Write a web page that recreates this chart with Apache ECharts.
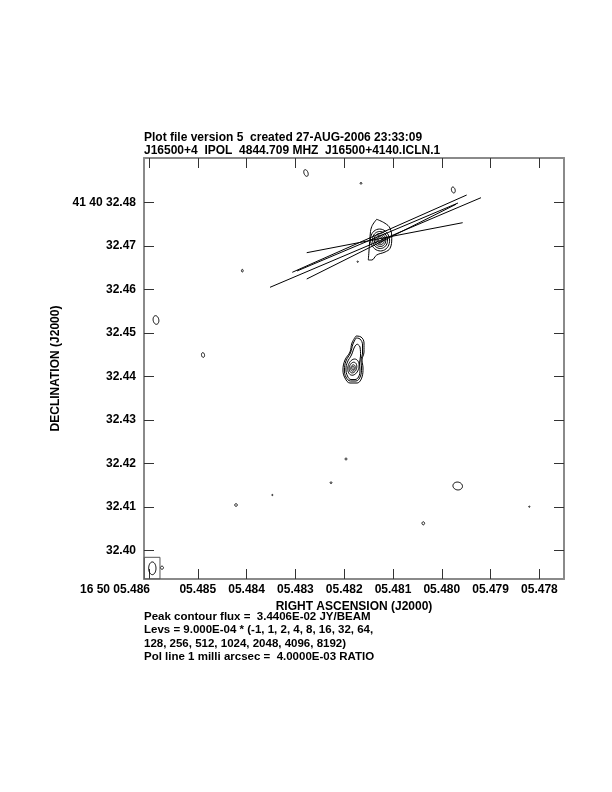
<!DOCTYPE html>
<html>
<head>
<meta charset="utf-8">
<script src="https://cdn.jsdelivr.net/npm/echarts@6/dist/echarts.min.js"></script>
<style>
  html, body { margin: 0; padding: 0; background: #fff; }
  #chart { width: 612px; height: 792px; }
</style>
</head>
<body>
<div id="chart"></div>
<script>
// axis ticks (RA seconds of 16h50m, Dec arcsec of +41d40m)
const raTicks = [5.486, 5.485, 5.484, 5.483, 5.482, 5.481, 5.480, 5.479, 5.478]
const decTicks = [32.40, 32.41, 32.42, 32.43, 32.44, 32.45, 32.46, 32.47, 32.48]
const raRange = [5.4774959, 5.4861025]
const decRange = [32.393402, 32.490184]

// source centres [ra s, dec arcsec]
const upperCentre = [5.481266, 32.471333]
const lowerCentre = [5.481820, 32.441907]

// irregular contours, offsets in mas from the centre (x positive = west)
const upperOuter = [[-0.76, 4.76], [-1.91, 3.06], [-2.3, 0.76], [-2.46, -1.54], [-2.69, -4.6], [-1.91, -4.6],
  [-0.76, -3.45], [1.15, -2.76], [2.3, -1.91], [2.69, 0.39], [2.3, 2.69], [1.15, 3.84]]
const lowerLev1 = [[0.69, 7.36], [1.84, 7.13], [2.53, 5.75], [2.53, 3.68], [2.07, 1.84], [2.3, 0], [2.07, -2.07],
  [0.92, -3.45], [-0.69, -3.45], [-1.84, -2.3], [-2.3, -0.46], [-1.84, 1.84], [-0.69, 3.68], [-0.23, 5.75]]
const lowerLev2 = [[0.69, 6.9], [1.61, 6.67], [2.19, 5.29], [2.19, 3.45], [1.84, 1.84], [1.96, 0], [1.73, -1.84],
  [0.69, -2.99], [-0.58, -2.99], [-1.61, -2.07], [-1.96, -0.46], [-1.61, 1.61], [-0.58, 3.45], [0, 5.52]]
const lowerLev3 = [[0.92, 5.52], [1.61, 4.83], [1.73, 2.76], [1.5, 1.15], [1.61, -0.46], [1.27, -2.07], [0.46, -2.65],
  [-0.46, -2.65], [-1.27, -1.84], [-1.61, -0.23], [-1.27, 1.38], [-0.35, 2.99], [0.35, 4.83]]

// elliptical contours: [dx mas, dy mas, rx mas, ry mas, angle deg] relative to a centre
const upperRings = [[0, 0, 2.19, 2.53, -10], [0, 0, 1.73, 1.96, -10], [0, 0, 1.33, 1.5, -10],
  [0, 0, 0.97, 1.1, -10], [0, 0, 0.64, 0.74, 0], [0, 0, 0.35, 0.41, 0]]
const lowerRings = [[0.1, 0.2, 1.25, 1.9, 15], [0, 0.1, 0.85, 1.25, 15], [0, 0, 0.5, 0.75, 15], [0, 0, 0.25, 0.4, 0]]

// isolated small contours: [ra, dec, rx mas, ry mas, angle deg]
const blobs = [
  [5.482783, 32.486736, 0.46, 0.8, -20],
  [5.479764, 32.482828, 0.42, 0.7, -15],
  [5.481656, 32.484368, 0.2, 0.2, 0],
  [5.481723, 32.466344, 0.15, 0.15, 0],
  [5.484088, 32.464276, 0.2, 0.3, 0],
  [5.485857, 32.452942, 0.65, 1.0, -10],
  [5.484893, 32.444896, 0.35, 0.55, -10],
  [5.481963, 32.420988, 0.22, 0.22, 0],
  [5.482270, 32.415539, 0.2, 0.2, 0],
  [5.483473, 32.412711, 0.12, 0.12, 0],
  [5.484217, 32.410413, 0.3, 0.3, 0],
  [5.480379, 32.406205, 0.3, 0.35, 0],
  [5.479674, 32.414780, 1.1, 0.9, 10],
  [5.478207, 32.410022, 0.1, 0.1, 0],
  [5.485734, 32.395998, 0.35, 0.35, 0]
]

// restoring beam and its box
const beam = [[5.485932, 32.395858, 0.84, 1.46, 0]]
const beamBox = [[5.486096, 32.398389], [5.485775, 32.398389], [5.485775, 32.393402], [5.486096, 32.393402]]

// polarisation vectors [[ra1, dec1], [ra2, dec2]]
const polVectors = [
  [[5.482768, 32.468414], [5.479572, 32.475310]],
  [[5.483520, 32.460460], [5.479197, 32.481057]],
  [[5.483064, 32.463908], [5.479490, 32.481678]],
  [[5.482967, 32.464207], [5.479668, 32.479839]],
  [[5.482768, 32.462367], [5.479709, 32.479540]]
]

const titleLines = ['Plot file version 5  created 27-AUG-2006 23:33:09', 'J16500+4  IPOL  4844.709 MHZ  J16500+4140.ICLN.1']
const noteLines = ['Peak contour flux =  3.4406E-02 JY/BEAM', 'Levs = 9.000E-04 * (-1, 1, 2, 4, 8, 16, 32, 64,',
  '128, 256, 512, 1024, 2048, 4096, 8192)', 'Pol line 1 milli arcsec =  4.0000E-03 RATIO']

const cosDec = Math.cos((41 + 40 / 60 + 32.44 / 3600) * Math.PI / 180)
const FONT = '"Liberation Sans", Arial, sans-serif'

function toRaDec(centre, off) {
  return [centre[0] - off[0] * 0.001 / (15 * cosDec), centre[1] + off[1] * 0.001]
}
function closedLine(centre, pts) {
  const d = pts.map(p => toRaDec(centre, p))
  d.push(d[0])
  return d
}
function ringsToBlobs(centre, rings) {
  return rings.map(r => toRaDec(centre, r).concat([r[2], r[3], r[4]]))
}

function renderEllipse(params, api) {
  const c = api.coord([api.value(0), api.value(1)])
  const k = api.size([0, 0.001])[1]
  const rx = Math.max(api.value(2) * k, 0.6)
  const ry = Math.max(api.value(3) * k, 0.6)
  const a = api.value(4) * Math.PI / 180
  const pts = []
  for (let i = 0; i < 40; i++) {
    const t = i / 40 * 2 * Math.PI
    const ex = rx * Math.cos(t)
    const ey = ry * Math.sin(t)
    pts.push([c[0] + ex * Math.cos(a) - ey * Math.sin(a), c[1] + ex * Math.sin(a) + ey * Math.cos(a)])
  }
  return {
    type: 'polygon',
    shape: { points: pts },
    style: { fill: 'none', stroke: '#000', lineWidth: 1 }
  }
}

function contourSeries(data) {
  return {
    type: 'line',
    data: data,
    smooth: 0.4,
    showSymbol: false,
    silent: true,
    lineStyle: { color: '#000', width: 1 },
    clip: true
  }
}

const tickStyle = { show: true, inside: true, length: 10, lineStyle: { color: '#333', width: 1 } }
const frameLine = { show: true, onZero: false, lineStyle: { color: '#8a8a8a', width: 2 } }
const labelFont = { fontFamily: FONT, fontWeight: 'bold', fontSize: 12, color: '#000' }

const chart = echarts.init(document.getElementById('chart'), null, { renderer: 'canvas' })

const option = {
  animation: false,
  backgroundColor: '#fff',
  grid: { left: 144, top: 158, width: 420, height: 421, containLabel: false },
  xAxis: [{
    type: 'value',
    position: 'bottom',
    min: raRange[0],
    max: raRange[1],
    inverse: true,
    axisLine: frameLine,
    axisTick: Object.assign({ customValues: raTicks }, tickStyle),
    splitLine: { show: false },
    axisLabel: Object.assign({
      customValues: raTicks,
      margin: 5,
      formatter: v => Math.abs(v - 5.486) < 1e-7 ? '{first|16 50 05.486}' : '0' + v.toFixed(3),
      rich: { first: Object.assign({ padding: [0, 68, 0, 0] }, labelFont) }
    }, labelFont),
    name: 'RIGHT ASCENSION (J2000)',
    nameLocation: 'middle',
    nameGap: 15,
    nameTextStyle: labelFont
  }, {
    type: 'value',
    position: 'top',
    min: raRange[0],
    max: raRange[1],
    inverse: true,
    axisLine: frameLine,
    axisTick: Object.assign({ customValues: raTicks }, tickStyle),
    axisLabel: { show: false },
    splitLine: { show: false }
  }],
  yAxis: [{
    type: 'value',
    position: 'left',
    min: decRange[0],
    max: decRange[1],
    axisLine: frameLine,
    axisTick: Object.assign({ customValues: decTicks }, tickStyle),
    splitLine: { show: false },
    axisLabel: Object.assign({
      customValues: decTicks,
      margin: 8,
      formatter: v => Math.abs(v - 32.48) < 1e-7 ? '41 40 32.48' : v.toFixed(2)
    }, labelFont),
    name: 'DECLINATION (J2000)',
    nameLocation: 'middle',
    nameGap: 81,
    nameTextStyle: labelFont
  }, {
    type: 'value',
    position: 'right',
    min: decRange[0],
    max: decRange[1],
    axisLine: frameLine,
    axisTick: Object.assign({ customValues: decTicks }, tickStyle),
    axisLabel: { show: false },
    splitLine: { show: false }
  }],
  graphic: [{
    type: 'text',
    left: 144,
    top: 131,
    style: { text: titleLines.join('\n'), font: 'bold 12px ' + FONT, lineHeight: 13, fill: '#000' }
  }, {
    type: 'text',
    left: 144,
    top: 610,
    style: { text: noteLines.join('\n'), font: 'bold 11.5px ' + FONT, lineHeight: 13.5, fill: '#000' }
  }],
  series: [
    contourSeries(closedLine(upperCentre, upperOuter)),
    contourSeries(closedLine(lowerCentre, lowerLev1)),
    contourSeries(closedLine(lowerCentre, lowerLev2)),
    contourSeries(closedLine(lowerCentre, lowerLev3)),
    {
      type: 'custom',
      renderItem: renderEllipse,
      data: ringsToBlobs(upperCentre, upperRings).concat(ringsToBlobs(lowerCentre, lowerRings), blobs, beam),
      silent: true
    },
    {
      type: 'line',
      data: beamBox.concat([beamBox[0]]),
      showSymbol: false,
      silent: true,
      lineStyle: { color: '#555', width: 1 }
    },
    {
      type: 'lines',
      coordinateSystem: 'cartesian2d',
      data: polVectors.map(v => ({ coords: v })),
      silent: true,
      lineStyle: { color: '#000', width: 1, opacity: 1 }
    }
  ]
}

chart.setOption(option)
</script>
</body>
</html>
